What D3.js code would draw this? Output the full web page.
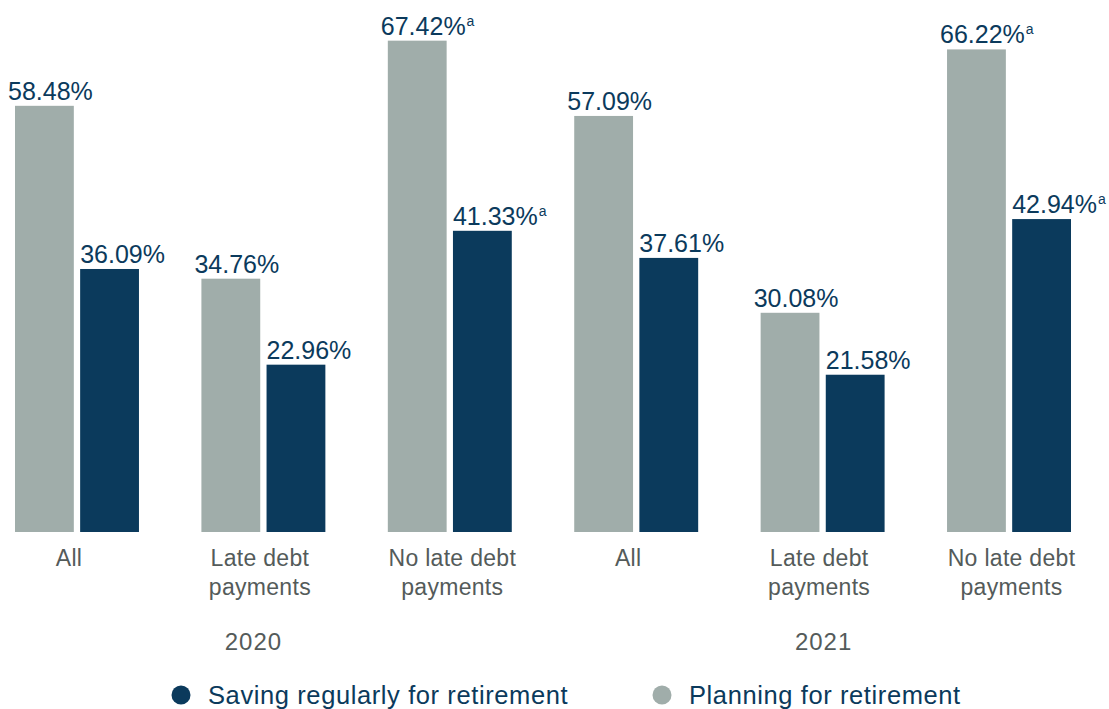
<!DOCTYPE html>
<html>
<head>
<meta charset="utf-8">
<script src="https://cdn.jsdelivr.net/npm/d3@7"></script>
<style>
  html, body { margin: 0; padding: 0; background: #fff; }
  svg { display: block; }
</style>
</head>
<body>
<svg id="chart" width="1109" height="709"></svg>
<script>
// Retirement saving and planning by debt payment status, 2020 vs 2021
const years = ["2020", "2021"];
const categories = ["All", "Late debt payments", "No late debt payments"];
const categoryLines = [["All"], ["Late debt", "payments"], ["No late debt", "payments"]];
const planning = [58.48, 34.76, 67.42, 57.09, 30.08, 66.22];
const saving = [36.09, 22.96, 41.33, 37.61, 21.58, 42.94];
const planningNote = [false, false, true, false, false, true];
const savingNote = [false, false, true, false, false, true];
const seriesNames = ["Saving regularly for retirement", "Planning for retirement"];

const NAVY = "#0b3a5c";
const GREY = "#a0adaa";
const TEXT_GREY = "#545b5a";
const FONT = "'Liberation Sans', Arial, sans-serif";

// One row per year/category group
const groups = [];
years.forEach((yr, yi) => {
  categories.forEach((cat, ci) => {
    const i = yi * categories.length + ci;
    groups.push({
      id: yr + "|" + cat, year: yr, ci, lines: categoryLines[ci],
      bars: [
        { key: "plan", value: planning[i], note: planningNote[i], color: GREY },
        { key: "save", value: saving[i], note: savingNote[i], color: NAVY }
      ]
    });
  });
});

const svg = d3.select("#chart");

const x = d3.scaleBand()
  .domain(groups.map(g => g.id))
  .range([15, 1071])
  .paddingInner(0.335)
  .paddingOuter(0);

const xInner = d3.scaleBand()
  .domain(["plan", "save"])
  .range([0, x.bandwidth()])
  .paddingInner(0.097);

const y = d3.scaleLinear().domain([0, 73]).range([532, 0]);

const g = svg.selectAll("g.group")
  .data(groups)
  .join("g")
  .attr("class", "group")
  .attr("transform", d => `translate(${x(d.id)},0)`);

g.selectAll("rect")
  .data(d => d.bars)
  .join("rect")
  .attr("x", b => xInner(b.key))
  .attr("y", b => y(b.value))
  .attr("width", xInner.bandwidth())
  .attr("height", b => y(0) - y(b.value))
  .attr("fill", b => b.color);

// Value labels above bars
const lbl = g.selectAll("text.value")
  .data(d => d.bars)
  .join("text")
  .attr("class", "value")
  .attr("x", b => xInner(b.key) + (b.key === "plan" ? -7 : 0))
  .attr("y", b => y(b.value) - 6)
  .attr("font-family", FONT)
  .attr("font-size", 25)
  .attr("fill", NAVY);

lbl.append("tspan").text(b => b.value.toFixed(2) + "%");
lbl.filter(b => b.note)
  .append("tspan")
  .attr("dy", -9)
  .attr("dx", 1)
  .attr("font-size", 14)
  .text("a");

// Category labels (slight per-category horizontal nudge)
const catNudge = [-8, -3.5, 2.5];
g.append("text")
  .attr("class", "cat")
  .attr("y", 566)
  .attr("text-anchor", "middle")
  .attr("font-family", FONT)
  .attr("font-size", 23)
  .attr("letter-spacing", 0.3)
  .attr("fill", TEXT_GREY)
  .selectAll("tspan")
  .data(d => d.lines.map(l => ({ l, ci: d.ci })))
  .join("tspan")
  .attr("x", t => x.bandwidth() / 2 + catNudge[t.ci])
  .attr("dy", (t, i) => i === 0 ? 0 : 29)
  .text(t => t.l);

// Year labels under the middle group of each year
const yearNudge = { "2020": -10, "2021": 1 };
svg.selectAll("text.year")
  .data(years)
  .join("text")
  .attr("class", "year")
  .attr("x", yr => x(yr + "|" + categories[1]) + x.bandwidth() / 2 + yearNudge[yr])
  .attr("y", 650)
  .attr("text-anchor", "middle")
  .attr("font-family", FONT)
  .attr("font-size", 24)
  .attr("letter-spacing", 1)
  .attr("fill", TEXT_GREY)
  .text(yr => yr);

// Legend
const legendItems = [
  { name: seriesNames[0], color: NAVY, x: 181 },
  { name: seriesNames[1], color: GREY, x: 662 }
];
const leg = svg.selectAll("g.legend")
  .data(legendItems)
  .join("g")
  .attr("class", "legend")
  .attr("transform", d => `translate(${d.x},695)`);
leg.append("circle").attr("r", 9.5).attr("fill", d => d.color);
leg.append("text")
  .attr("x", 27)
  .attr("y", 9)
  .attr("font-family", FONT)
  .attr("font-size", 25.5)
  .attr("letter-spacing", 0.6)
  .attr("fill", NAVY)
  .text(d => d.name);
</script>
</body>
</html>
